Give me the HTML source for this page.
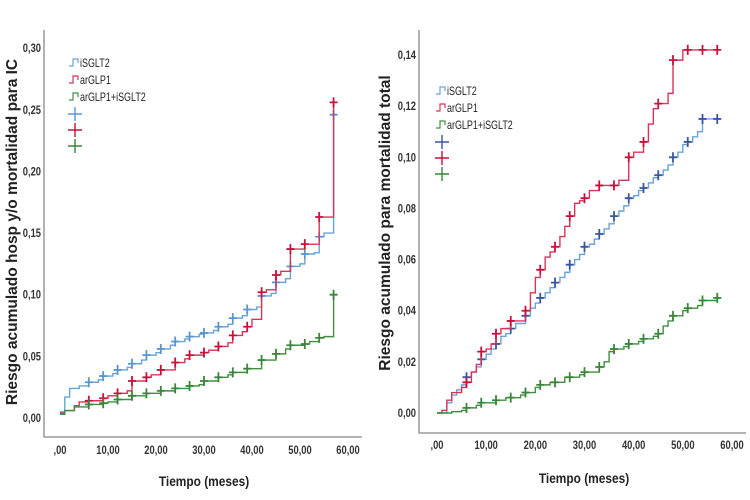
<!DOCTYPE html>
<html><head><meta charset="utf-8"><style>
body{margin:0;background:#fff;}
svg{display:block;font-family:"Liberation Sans",sans-serif;}
</style></head><body>
<svg id="chart" width="750" height="500" viewBox="0 0 750 500"></svg>
<script>
const NS="http://www.w3.org/2000/svg";
const svg=document.getElementById('chart');
// ---- data ----
const xTicks=[0,10,20,30,40,50,60];
const xTickLabels=[",00","10,00","20,00","30,00","40,00","50,00","60,00"];
const leftYTicks=[0,0.05,0.10,0.15,0.20,0.25,0.30];
const leftYTickLabels=["0,00","0,05","0,10","0,15","0,20","0,25","0,30"];
const rightYTicks=[0,0.02,0.04,0.06,0.08,0.10,0.12,0.14];
const rightYTickLabels=["0,00","0,02","0,04","0,06","0,08","0,10","0,12","0,14"];
const censorTimes=[6,9,12,15,18,21,24,27,30,33,36,39,42,45,48,51,54,57];
const L_sglt2_t=[0,1,2,4,6,8,9,11,12,14,15,17,18,20,21,23,24,26,27,29,30,32,33,35,36,38,39,41,42,44,45,47,48,50,51,53,54,55,57];
const L_sglt2_v=[0.005,0.017,0.024,0.026,0.029,0.031,0.034,0.036,0.039,0.041,0.044,0.047,0.051,0.053,0.056,0.059,0.062,0.064,0.066,0.068,0.069,0.071,0.074,0.076,0.081,0.083,0.088,0.090,0.099,0.101,0.110,0.113,0.123,0.125,0.133,0.134,0.147,0.150,0.246];
const L_glp1_t=[0,1,3,4,6,9,10,12,14,15,18,19,21,24,26,27,30,31,33,35,36,38,39,40,42,43,45,46,48,51,54,57];
const L_glp1_v=[0.004,0.006,0.010,0.013,0.014,0.016,0.018,0.020,0.022,0.030,0.033,0.035,0.039,0.045,0.048,0.051,0.053,0.055,0.058,0.061,0.067,0.070,0.074,0.080,0.102,0.104,0.116,0.119,0.137,0.141,0.163,0.256];
const L_combo_t=[0,1,3,6,9,10,12,15,18,21,24,27,29,30,33,35,36,39,42,45,47,48,51,52,54,55,57];
const L_combo_v=[0.003,0.006,0.009,0.011,0.012,0.013,0.015,0.018,0.020,0.022,0.024,0.026,0.027,0.030,0.033,0.035,0.037,0.040,0.047,0.052,0.056,0.059,0.060,0.062,0.065,0.066,0.100];
const R_sglt2_t=[0,2,3,4,5,6,7,8,9,10,11,12,13,14,15,16,18,19,20,21,22,23,24,25,26,27,28,29,30,31,32,33,34,35,36,37,38,39,40,41,42,43,44,45,46,47,48,49,50,51,52,53,54,57];
const R_sglt2_v=[0,0.004,0.007,0.009,0.011,0.014,0.016,0.018,0.021,0.023,0.025,0.027,0.030,0.031,0.033,0.035,0.038,0.041,0.043,0.045,0.047,0.049,0.051,0.053,0.055,0.058,0.060,0.062,0.065,0.066,0.068,0.070,0.072,0.074,0.077,0.079,0.081,0.084,0.085,0.087,0.088,0.090,0.092,0.093,0.095,0.097,0.100,0.102,0.105,0.106,0.108,0.110,0.115,0.115];
const R_glp1_t=[0,1,2,3,5,6,7,8,9,10,11,12,13,15,18,19,20,21,22,23,24,25,26,27,28,29,30,31,33,36,37,39,40,42,43,44,45,47,48,50,57];
const R_glp1_v=[0,0.001,0.005,0.008,0.010,0.012,0.016,0.019,0.024,0.025,0.027,0.031,0.033,0.036,0.040,0.047,0.053,0.056,0.061,0.063,0.065,0.069,0.073,0.077,0.082,0.083,0.084,0.087,0.089,0.089,0.091,0.100,0.102,0.106,0.113,0.119,0.121,0.125,0.138,0.142,0.142];
const R_combo_t=[0,3,5,6,8,9,12,14,15,17,18,20,21,23,24,26,27,29,30,33,34,35,36,38,39,41,42,44,45,46,47,48,50,51,53,54,57];
const R_combo_v=[0,0.0005,0.001,0.002,0.003,0.004,0.005,0.006,0.006,0.007,0.008,0.010,0.011,0.012,0.012,0.014,0.014,0.015,0.016,0.018,0.020,0.024,0.025,0.026,0.027,0.028,0.029,0.030,0.031,0.034,0.036,0.038,0.040,0.041,0.042,0.044,0.045];
const seriesNames=["iSGLT2","arGLP1","arGLP1+iSGLT2"];

function el(tag,attrs,parent){const e=document.createElementNS(NS,tag);for(const k in attrs)e.setAttribute(k,attrs[k]);(parent||svg).appendChild(e);return e;}
function valAt(ts,vs,t){let v=vs[0];for(let i=0;i<ts.length;i++){if(ts[i]<=t)v=vs[i];}return v;}

function panel(cfg){
  const g=el('g',{});
  
  
  const X=t=>cfg.x0+(t-0)*(cfg.x60-cfg.x0)/60;
  const Y=v=>cfg.y0-v*cfg.scale;
  const ax=el('path',{d:`M${cfg.axX} ${cfg.axTop} V${cfg.axY} H${cfg.axRight}`,stroke:'#888',fill:'none','stroke-width':1.3},g);
  
  
  xTicks.forEach((t,i)=>{const tx=el('text',{'font-size':12,'font-weight':'bold','text-anchor':'middle',fill:'#333',transform:`translate(${X(t)},${cfg.axY+cfg.xlOff}) scale(0.78,1)`},g);
    tx.textContent=xTickLabels[i];
    
    });
  cfg.yTicks.forEach((v,i)=>{const tx=el('text',{'font-size':12,'font-weight':'bold','text-anchor':'end',fill:'#333',transform:`translate(${cfg.axX-3},${Y(v)+4}) scale(0.78,1)`},g);
    tx.textContent=cfg.yLabels[i];
    
    });
  const yt=el('text',{'font-size':cfg.ytSize,'font-weight':'bold','text-anchor':'middle',fill:'#222',transform:`translate(${cfg.ytX},${cfg.ytY}) rotate(-90)`},g);
  yt.textContent=cfg.yTitle;
  
  
  const xt=el('text',{'font-size':14,'font-weight':'bold','text-anchor':'middle',fill:'#222',transform:`translate(${cfg.xtX},${cfg.xtY}) scale(0.85,1)`},g);
  xt.textContent='Tiempo (meses)';
  
  
  cfg.series.forEach((s,si)=>{
    let d=`M${X(s.t[0])} ${Y(s.v[0])}`;
    for(let i=1;i<s.t.length;i++){d+=` H${X(s.t[i])} V${Y(s.v[i])}`;}
    const p=el('path',{d,stroke:s.color,fill:'none','stroke-width':1.4},g);
    
    
    censorTimes.forEach(t=>{const cx=X(t),cy=Y(valAt(s.t,s.v,t));
      const c=el('path',{d:`M${cx-4} ${cy} H${cx+4} M${cx} ${cy-5} V${cy+5}`,stroke:s.mark,'stroke-width':1.8},g);
      
      });
  });
  const lg=el('g',{},g);
  
  
  cfg.series.forEach((s,i)=>{const y=cfg.lgY+i*17;
    el('path',{d:`M${cfg.lgX} ${y+3} H${cfg.lgX+4} V${y-4} H${cfg.lgX+9} V${y}`,stroke:s.color,fill:'none','stroke-width':1.2},lg);
    const t=el('text',{'font-size':11.5,fill:'#222',transform:`translate(${cfg.lgX+11},${y+4}) scale(0.78,1)`},lg);
    t.textContent=seriesNames[i];
    
    
    const cy=cfg.lgY+51+i*16;
    el('path',{d:`M${cfg.lgX-1} ${cy} H${cfg.lgX+13} M${cfg.lgX+6} ${cy-7} V${cy+7}`,stroke:s.mark,'stroke-width':1.4},lg);
  });
}
panel({name:'left-chart',x0:60,x60:348,y0:418,scale:1233,axX:44,axTop:30,axY:437,axRight:362,xlOff:17,
  yTicks:leftYTicks,yLabels:leftYTickLabels,yTitle:'Riesgo acumulado hosp y/o mortalidad para IC',ytSize:15.5,ytX:17,ytY:232,xtX:204,xtY:486,lgX:69,lgY:63,
  series:[{key:'isglt2',t:L_sglt2_t,v:L_sglt2_v,color:'#6aa3d8',mark:'#5b95d0'},
          {key:'arglp1',t:L_glp1_t,v:L_glp1_v,color:'#d8345a',mark:'#c8103a'},
          {key:'combo',t:L_combo_t,v:L_combo_v,color:'#3f8f3f',mark:'#3a853a'}]});
panel({name:'right-chart',x0:437,x60:732,y0:413,scale:2557,axX:419,axTop:30,axY:433,axRight:746,xlOff:16,
  yTicks:rightYTicks,yLabels:rightYTickLabels,yTitle:'Riesgo acumulado para mortalidad total',ytSize:15.5,ytX:390,ytY:223,xtX:584,xtY:483,lgX:436,lgY:91,
  series:[{key:'isglt2',t:R_sglt2_t,v:R_sglt2_v,color:'#6aa3d8',mark:'#3b55a0'},
          {key:'arglp1',t:R_glp1_t,v:R_glp1_v,color:'#d8345a',mark:'#c8103a'},
          {key:'combo',t:R_combo_t,v:R_combo_v,color:'#3f8f3f',mark:'#3a853a'}]});
</script>
</body></html>
